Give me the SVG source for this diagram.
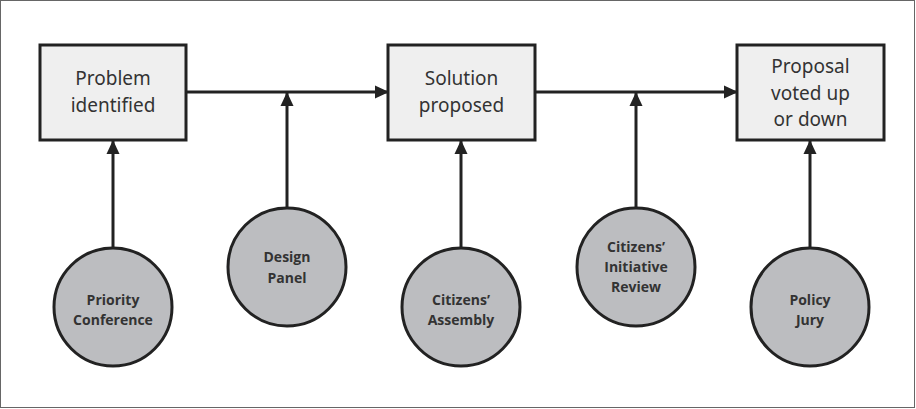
<svg xmlns="http://www.w3.org/2000/svg" width="916" height="409" viewBox="0 0 916 409">
<defs>
<marker id="ah" markerUnits="userSpaceOnUse" markerWidth="14" markerHeight="14" viewBox="0 0 14 14" refX="13" refY="7" orient="auto">
<path d="M0,0.5 L14,7 L0,13.5 Z" fill="#222"/>
</marker>
<style>
.box{fill:#efefef;stroke:#222;stroke-width:3}
.circ{fill:#bcbdc0;stroke:#222;stroke-width:3}
.bt{font-family:"Noto Sans","DejaVu Sans",sans-serif;font-size:19px;fill:#333;text-anchor:middle}
.ct{font-family:"Open Sans","Liberation Sans",sans-serif;font-size:14px;font-weight:bold;fill:#333;text-anchor:middle}
.con{stroke:#222;stroke-width:3;fill:none;marker-end:url(#ah)}
</style>
</defs>
<rect x="0.5" y="0.5" width="914" height="407" fill="#fff" stroke="#666" stroke-width="1"/>
<g id="connectors">
<line class="con" x1="186" y1="92" x2="388" y2="92"/>
<line class="con" x1="535" y1="92" x2="737" y2="92"/>
<line class="con" x1="113" y1="248" x2="113" y2="141"/>
<line class="con" x1="287" y1="208" x2="287" y2="93"/>
<line class="con" x1="461" y1="248" x2="461" y2="141"/>
<line class="con" x1="636" y1="208" x2="636" y2="93"/>
<line class="con" x1="810" y1="248" x2="810" y2="141"/>
</g>
<g id="problem-identified">
<rect class="box" x="40" y="45" width="146" height="95"/>
<text class="bt" x="113" y="85">Problem</text>
<text class="bt" x="113" y="112">identified</text>
</g>
<g id="solution-proposed">
<rect class="box" x="388" y="45" width="147" height="95"/>
<text class="bt" x="461.5" y="85">Solution</text>
<text class="bt" x="461.5" y="112">proposed</text>
</g>
<g id="proposal-voted">
<rect class="box" x="737" y="45" width="147" height="95"/>
<text class="bt" x="810.5" y="73">Proposal</text>
<text class="bt" x="810.5" y="100">voted up</text>
<text class="bt" x="810.5" y="126">or down</text>
</g>
<g id="priority-conference">
<circle class="circ" cx="113" cy="307" r="59"/>
<text class="ct" x="113" y="305">Priority</text>
<text class="ct" x="113" y="325">Conference</text>
</g>
<g id="design-panel">
<circle class="circ" cx="287" cy="267" r="59"/>
<text class="ct" x="287" y="262">Design</text>
<text class="ct" x="287" y="283">Panel</text>
</g>
<g id="citizens-assembly">
<circle class="circ" cx="461" cy="307" r="59"/>
<text class="ct" x="461" y="305">Citizens’</text>
<text class="ct" x="461" y="325">Assembly</text>
</g>
<g id="citizens-initiative-review">
<circle class="circ" cx="636" cy="267" r="59"/>
<text class="ct" x="636" y="252">Citizens’</text>
<text class="ct" x="636" y="272">Initiative</text>
<text class="ct" x="636" y="292">Review</text>
</g>
<g id="policy-jury">
<circle class="circ" cx="810" cy="307" r="59"/>
<text class="ct" x="810" y="305">Policy</text>
<text class="ct" x="810" y="325">Jury</text>
</g>
</svg>
